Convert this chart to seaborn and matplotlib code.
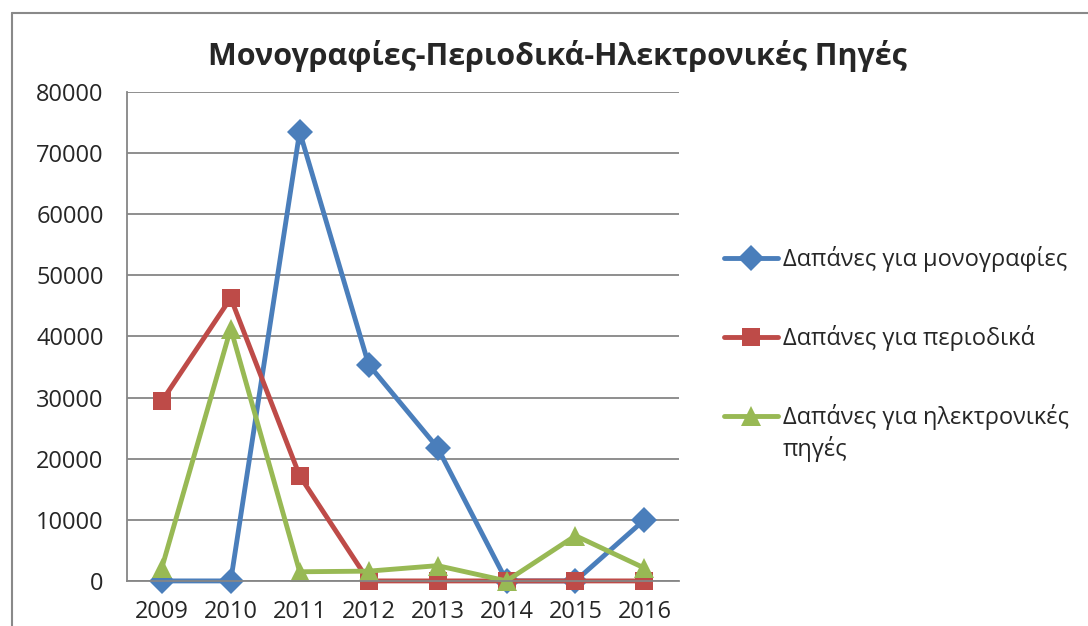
import numpy as np
import pandas as pd
import matplotlib
matplotlib.use("Agg")
import matplotlib.pyplot as plt
from matplotlib.lines import Line2D
import seaborn as sns

years = [2009, 2010, 2011, 2012, 2013, 2014, 2015, 2016]
monografies = [0, 0, 73500, 35400, 21800, 0, 0, 10000]
periodika = [29400, 46300, 17200, 0, 0, 0, 0, 0]
ilektronikes = [2100, 41300, 1500, 1600, 2500, 0, 7400, 2100]
labels = ["Δαπάνες για μονογραφίες", "Δαπάνες για περιοδικά",
          "Δαπάνες για ηλεκτρονικές"]
label_extra = "πηγές"
colors = ["#4A7EBB", "#BE4B48", "#98B954"]
markers = ["D", "s", "^"]
msizes = [13, 13, 15]
title = "Μονογραφίες-Περιοδικά-Ηλεκτρονικές Πηγές"

sns.set_style("white")
plt.rcParams["font.family"] = ["Open Sans", "DejaVu Sans"]

fig = plt.figure(figsize=(10.88, 6.26), dpi=100)
ax = fig.add_axes([0.117, 0.072, 0.507, 0.781])

series = [monografies, periodika, ilektronikes]
for vals, lab, c, m, ms in zip(series, labels, colors, markers, msizes):
    df = pd.DataFrame({"year": years, "value": vals})
    sns.lineplot(data=df, x="year", y="value", ax=ax, color=c, lw=3.5,
                 marker=m, markersize=ms, markeredgewidth=0, label=lab,
                 clip_on=False)

ax.set_xlim(2008.5, 2016.5)
ax.set_ylim(0, 80000)
ax.set_xticks(years)
ax.set_yticks(np.arange(0, 80001, 10000))
ax.set_xlabel("")
ax.set_ylabel("")
ax.grid(axis="y", color="#868686", lw=1.3)
ax.set_axisbelow(True)
for s in ["top", "right"]:
    ax.spines[s].set_visible(False)
for s in ["left", "bottom"]:
    ax.spines[s].set_color("#868686")
    ax.spines[s].set_linewidth(1.3)
ax.tick_params(axis="y", length=0, pad=17, labelsize=17)
ax.tick_params(axis="x", length=0, pad=14, labelsize=17)

fig.text(0.512, 0.91, title, ha="center", va="center", fontsize=22,
         fontweight="bold")

ax.legend(loc="upper left", bbox_to_anchor=(0.665, 0.607),
          bbox_transform=fig.transFigure, frameon=False, fontsize=17,
          handlelength=2.3, handletextpad=0.2, labelspacing=2.25,
          borderpad=0, borderaxespad=0)
fig.text(0.7197, 0.2827, label_extra, ha="left", va="center", fontsize=17)

fig.add_artist(Line2D([0.0106, 0.0106], [0, 0.979], color="#898989", lw=1.5,
                      transform=fig.transFigure))
fig.add_artist(Line2D([0.0106, 1], [0.979, 0.979], color="#898989", lw=1.5,
                      transform=fig.transFigure))

fig.savefig("out.png", dpi=100)
